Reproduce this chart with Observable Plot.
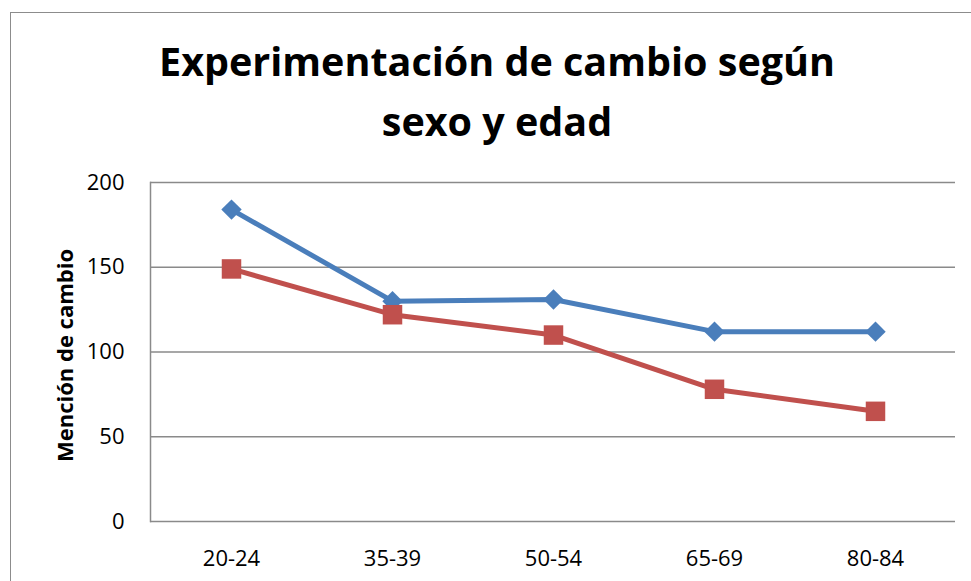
<!DOCTYPE html>
<html>
<head>
<meta charset="utf-8">
<script src="https://cdn.jsdelivr.net/npm/d3@7"></script>
<script src="https://cdn.jsdelivr.net/npm/@observablehq/plot@0.6"></script>
<style>
  html, body { margin: 0; padding: 0; background: #fff; overflow: hidden; }
  #wrap { position: relative; width: 971px; height: 581px; overflow: hidden; font-family: "Open Sans", sans-serif; }
  #border { position: absolute; left: 10px; top: 12px; width: 1100px; height: 700px; border-left: 1.5px solid #8c8c8c; border-top: 1.5px solid #8c8c8c; }
  #title { position: absolute; left: 97px; top: 31px; width: 800px; text-align: center; font-weight: 700; font-size: 39.5px; line-height: 60px; color: #000; }
  #chart { position: absolute; left: 0; top: 0; }
</style>
</head>
<body>
<div id="wrap">
  <div id="border"></div>
  <div id="chart"></div>
  <div id="title">Experimentación de cambio según<br>sexo y edad</div>
</div>
<script>
const ages = ["20-24", "35-39", "50-54", "65-69", "80-84"];
const serie1 = [184, 130, 131, 112, 112];
const serie2 = [149, 122, 110, 78, 65];
const yTicks = [0, 50, 100, 150, 200];
const yLabel = "Mención de cambio";

const s1 = ages.map((a, i) => ({age: a, value: serie1[i]}));
const s2 = ages.map((a, i) => ({age: a, value: serie2[i]}));

const blue = "#4a7ebb";
const red = "#c0504d";

const chart = Plot.plot({
  width: 971,
  height: 581,
  marginTop: 182,
  marginBottom: 60,
  marginLeft: 150,
  marginRight: 16,
  style: {fontFamily: "'Open Sans', sans-serif", fontSize: "22px", color: "#000", background: "transparent"},
  x: {type: "point", domain: ages, padding: 0.5, label: null, tickSize: 0, tickPadding: 29},
  y: {domain: [0, 200], ticks: yTicks, label: null, tickSize: 0, tickPadding: 26},
  marks: [
    Plot.ruleY(yTicks, {stroke: "#8a8a8a", strokeWidth: 1.5}),
    Plot.frame({anchor: "left", stroke: "#8a8a8a", strokeWidth: 1.5}),
    Plot.line(s1, {x: "age", y: "value", stroke: blue, strokeWidth: 5, strokeLinejoin: "round"}),
    Plot.line(s2, {x: "age", y: "value", stroke: red, strokeWidth: 5, strokeLinejoin: "round"}),
    Plot.dot(s1, {x: "age", y: "value", symbol: "diamond2", r: 9.2, fill: blue, stroke: "none"}),
    Plot.dot(s2, {x: "age", y: "value", symbol: "square", r: 11, fill: red, stroke: "none"}),
    Plot.text([yLabel], {text: d => d, frameAnchor: "left", textAnchor: "middle", dx: -85, dy: 3.5, rotate: -90, fontWeight: "bold", fontSize: 22, fill: "#000"})
  ]
});
document.getElementById("chart").appendChild(chart);
</script>
</body>
</html>
